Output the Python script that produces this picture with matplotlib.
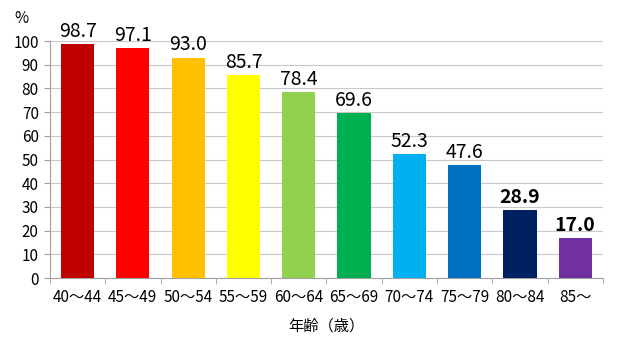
import matplotlib
matplotlib.use("Agg")
import matplotlib.pyplot as plt
import numpy as np

plt.rcParams['font.family'] = ['Noto Sans CJK JP', 'DejaVu Sans']

categories = ["40〜44", "45〜49", "50〜54", "55〜59", "60〜64", "65〜69", "70〜74", "75〜79", "80〜84", "85〜"]
values = [98.7, 97.1, 93.0, 85.7, 78.4, 69.6, 52.3, 47.6, 28.9, 17.0]
colors = ["#C00000", "#FF0000", "#FFC000", "#FFFF00", "#92D050", "#00B050", "#00B0F0", "#0070C0", "#002060", "#7030A0"]
bold_flags = [False]*8 + [True, True]

fig = plt.figure(figsize=(6.4, 3.57), dpi=100)
ax = fig.add_axes([0.078, 0.221, 0.864, 0.664])
x = np.arange(len(categories))
ax.bar(x, values, width=0.6, color=colors, zorder=3)
for xi, v, b in zip(x, values, bold_flags):
    ax.text(xi, v + 1.0, f"{v:.1f}", ha='center', va='bottom', fontsize=14,
            fontweight='bold' if b else 'normal', color='black', zorder=4)

ax.set_xlim(-0.5, len(categories) - 0.5)
ax.set_ylim(0, 100)
ax.set_yticks(range(0, 101, 10))
ax.tick_params(axis='y', labelsize=11, length=4, color='#A0A0A0', pad=4)
ax.set_xticks(x)
ax.set_xticklabels(categories, fontsize=11)
ax.set_xticks(np.arange(-0.5, len(categories), 1), minor=True)
ax.tick_params(axis='x', which='major', length=0, pad=8)
ax.tick_params(axis='x', which='minor', length=4, color='#A0A0A0')
ax.grid(axis='y', color='#C8C8C8', linewidth=0.8, zorder=0)
for s in ['top', 'right']:
    ax.spines[s].set_visible(False)
for s in ['left', 'bottom']:
    ax.spines[s].set_color('#A0A0A0')
ax.set_xlabel("年齢（歳）", fontsize=11, labelpad=8)
fig.text(0.022, 0.948, "%", fontsize=11, ha='left', va='center')
fig.savefig("out.png", dpi=100, facecolor='white')
